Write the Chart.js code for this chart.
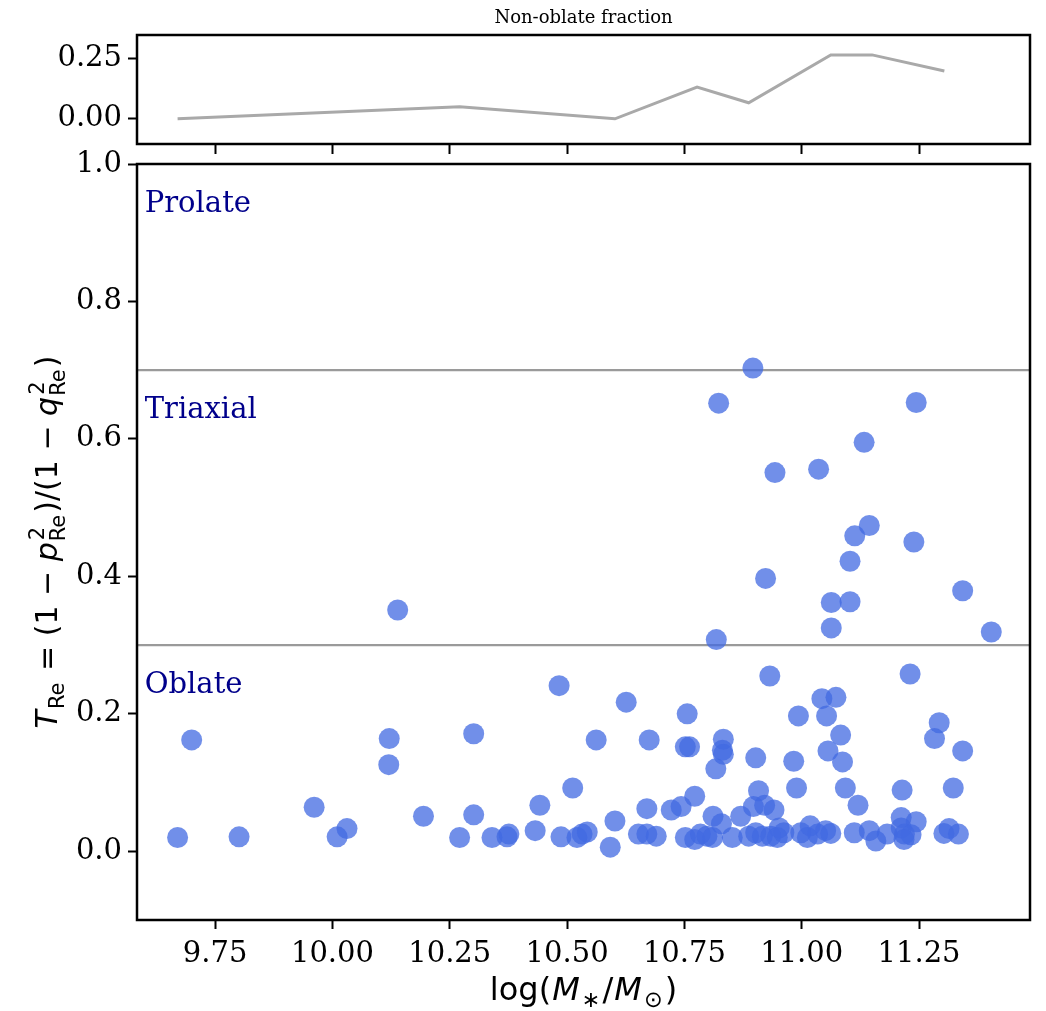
<!DOCTYPE html>
<html><head><meta charset="utf-8">
<script src="https://cdn.jsdelivr.net/npm/chart.js@4.4.1/dist/chart.umd.min.js"></script>
<style>
html,body{margin:0;padding:0;background:#fff;}
#wrap{position:relative;width:1046px;height:1011px;overflow:hidden;background:#fff;}
canvas{position:absolute;left:0;}
#top{top:0;}
#main{top:150px;}
</style></head><body>
<div id="wrap"><canvas id="top" width="1046" height="160"></canvas><canvas id="main" width="1046" height="861"></canvas></div>
<script>
// ---- data ----
const massX = [
 10.896,10.823,11.244,11.133,10.943,11.036,11.144,11.113,11.239,11.103,
 10.923,11.063,11.103,11.063,11.343,10.818,11.404,10.932,11.231,10.139,
 9.700,10.121,10.120,10.301,10.483,10.626,10.562,10.675,10.756,10.752,
 10.761,10.833,10.831,10.833,10.817,10.902,10.983,10.993,11.043,11.073,
 11.053,11.083,11.056,11.087,11.293,11.283,11.343,
 10.512,10.908,10.989,11.093,11.120,11.214,11.323,9.961,10.031,10.194,
 10.301,10.442,10.670,10.722,10.743,10.772,10.602,10.811,10.829,10.870,
 10.897,10.921,10.941,10.952,11.018,11.212,11.244,11.212,
 9.670,9.801,10.010,10.271,10.340,10.372,10.376,10.432,10.487,10.521,
 10.532,10.543,10.592,10.652,10.670,10.690,10.752,10.772,10.784,10.798,
 10.810,10.852,10.887,10.902,10.916,10.934,10.948,10.962,10.998,11.012,
 11.034,11.051,11.062,11.112,11.144,11.158,11.182,11.219,11.233,11.218,
 11.303,11.314,11.334
];
const triaxiality = [
 0.703,0.652,0.653,0.595,0.551,0.556,0.474,0.459,0.450,0.422,
 0.397,0.362,0.363,0.325,0.379,0.308,0.319,0.255,0.258,0.351,
 0.162,0.164,0.126,0.171,0.241,0.217,0.162,0.162,0.200,0.152,
 0.152,0.163,0.147,0.141,0.120,0.136,0.131,0.197,0.222,0.224,
 0.197,0.169,0.146,0.130,0.187,0.164,0.146,
 0.092,0.088,0.092,0.092,0.067,0.089,0.092,0.064,0.033,0.051,
 0.053,0.067,0.062,0.060,0.065,0.080,0.044,0.051,0.040,0.051,
 0.065,0.067,0.060,0.034,0.037,0.049,0.043,0.034,
 0.020,0.021,0.021,0.020,0.020,0.021,0.025,0.030,0.021,0.020,
 0.025,0.028,0.006,0.025,0.025,0.022,0.020,0.017,0.025,0.022,
 0.020,0.020,0.022,0.027,0.022,0.022,0.020,0.027,0.027,0.020,
 0.025,0.030,0.026,0.027,0.030,0.015,0.025,0.025,0.024,0.017,
 0.026,0.033,0.025
];
const fracMass = [9.670, 10.271, 10.602, 10.777, 10.887, 11.062, 11.150, 11.304];
const nonOblateFrac = [0.0, 0.05, 0.0, 0.133, 0.067, 0.267, 0.267, 0.2];
const xTicks = [9.75, 10.00, 10.25, 10.50, 10.75, 11.00, 11.25];
const yTicks = [0.0, 0.2, 0.4, 0.6, 0.8, 1.0];
const fracTicks = [0.00, 0.25];
const regionNames = ['Prolate', 'Triaxial', 'Oblate'];
const regionLabelY = [0.93, 0.63, 0.23];
const boundaries = [0.3, 0.7];

// ---- shared settings ----
const X_MIN = 9.5835, X_MAX = 11.4865;
const serif = "'DejaVu Serif', serif";
const tickFont = {family: "DejaVu Serif", size: 29};

function noPad(s){ s.paddingTop = 0; s.paddingBottom = 0; s.paddingLeft = 0; s.paddingRight = 0; }

function frame(ctx, a){
  ctx.save();
  ctx.strokeStyle = '#000';
  ctx.lineWidth = 2.5;
  ctx.strokeRect(a.left, a.top, a.right - a.left, a.bottom - a.top);
  ctx.restore();
}

// simple math-text runs drawing
function runsLayout(ctx, runs, size, draw, x0, y0){
  let x = x0 || 0;
  const sub = size * 0.7;
  for (const r of runs){
    const k = r.k || 'b';
    if (k === 'b'){
      ctx.font = (r.it ? 'italic ' : '') + size + "px 'DejaVu Sans'";
      if (draw) ctx.fillText(r.t, x, y0);
      x += ctx.measureText(r.t).width + (r.sp || 0);
    } else if (k === 'sub'){
      ctx.font = sub + "px 'DejaVu Sans'";
      if (draw) ctx.fillText(r.t, x + 1, y0 + size * 0.22);
      x += ctx.measureText(r.t).width + 3;
    } else if (k === 'ss'){
      ctx.font = sub + "px 'DejaVu Sans'";
      const w1 = ctx.measureText(r.sup).width, w2 = ctx.measureText(r.sub).width;
      if (draw){
        ctx.fillText(r.sup, x + 2, y0 - size * 0.45);
        ctx.fillText(r.sub, x + 1, y0 + size * 0.25);
      }
      x += Math.max(w1 + 2, w2 + 1) + 2;
    }
  }
  return x - (x0 || 0);
}
function drawRuns(ctx, runs, size, cx, baseline){
  ctx.save();
  ctx.textBaseline = 'alphabetic';
  ctx.textAlign = 'left';
  ctx.fillStyle = '#000';
  const w = runsLayout(ctx, runs, size, false, 0, 0);
  runsLayout(ctx, runs, size, true, cx - w / 2, baseline);
  ctx.restore();
}

const yLabelRuns = [
  {t:'T', it:1}, {t:'Re', k:'sub'}, {t:' = (1 \u2212 '}, {t:'p', it:1}, {k:'ss', sup:'2', sub:'Re'},
  {t:')/(1 \u2212 '}, {t:'q', it:1}, {k:'ss', sup:'2', sub:'Re'}, {t:')'}
];
const xLabelRuns = [
  {t:'log(', sp:1}, {t:'M', it:1, sp:1}, {t:'\u2217', k:'sub'}, {t:'/', sp:1}, {t:'M', it:1, sp:1}, {t:'\u2299', k:'sub'}, {t:')'}
];

// ---- top panel ----
new Chart(document.getElementById('top'), {
  type: 'line',
  data: { datasets: [{
    data: fracMass.map((m, i) => ({x: m, y: nonOblateFrac[i]})),
    borderColor: '#a9a9a9', borderWidth: 3, pointRadius: 0, tension: 0, fill: false
  }]},
  options: {
    responsive: false, animation: false, devicePixelRatio: 1,
    events: [],
    layout: {padding: {top: 35, right: 16, left: 0, bottom: 0}},
    plugins: {legend: {display: false}, tooltip: {enabled: false}},
    scales: {
      x: {
        type: 'linear', min: X_MIN, max: X_MAX,
        afterBuildTicks: s => { s.ticks = xTicks.map(v => ({value: v})); },
        afterFit: s => { s.height = 16; noPad(s); },
        ticks: {callback: () => '', autoSkip: false, maxRotation: 0},
        grid: {drawOnChartArea: false, drawTicks: true, tickLength: 10, tickWidth: 2, tickColor: '#000'},
        border: {display: false}
      },
      y: {
        min: -0.105, max: 0.35,
        afterBuildTicks: s => { s.ticks = fracTicks.map(v => ({value: v})); },
        afterFit: s => { s.width = 137; noPad(s); },
        ticks: {callback: v => Number(v).toFixed(2), font: tickFont, color: '#000', padding: 6},
        grid: {drawOnChartArea: false, drawTicks: true, tickLength: 9, tickWidth: 2, tickColor: '#000'},
        border: {display: false}
      }
    }
  },
  plugins: [{
    id: 'topDeco',
    afterDraw(chart){
      const ctx = chart.ctx, a = chart.chartArea;
      frame(ctx, a);
      ctx.save();
      ctx.font = "18px " + serif;
      ctx.fillStyle = '#000';
      ctx.textAlign = 'center';
      ctx.textBaseline = 'alphabetic';
      ctx.fillText('Non-oblate fraction', (a.left + a.right) / 2, a.top - 12);
      ctx.restore();
    }
  }]
});

// ---- main panel ----
new Chart(document.getElementById('main'), {
  type: 'scatter',
  data: { datasets: [{
    data: massX.map((m, i) => ({x: m, y: triaxiality[i]})),
    backgroundColor: 'rgba(65,105,225,0.75)', borderWidth: 0, pointRadius: 10.5
  }]},
  options: {
    responsive: false, animation: false, devicePixelRatio: 1,
    events: [],
    layout: {padding: {top: 14, right: 16, left: 0, bottom: 0}},
    plugins: {legend: {display: false}, tooltip: {enabled: false}},
    scales: {
      x: {
        type: 'linear', min: X_MIN, max: X_MAX,
        afterBuildTicks: s => { s.ticks = xTicks.map(v => ({value: v})); },
        afterFit: s => { s.height = 91; noPad(s); },
        ticks: {callback: v => Number(v).toFixed(2), font: tickFont, color: '#000', autoSkip: false, maxRotation: 0, padding: 8},
        grid: {drawOnChartArea: false, drawTicks: true, tickLength: 9, tickWidth: 2, tickColor: '#000'},
        border: {display: false}
      },
      y: {
        min: -0.1, max: 1.0,
        afterBuildTicks: s => { s.ticks = yTicks.map(v => ({value: v})); },
        afterFit: s => { s.width = 137; noPad(s); },
        ticks: {callback: v => Number(v).toFixed(1), font: tickFont, color: '#000', padding: 6},
        grid: {drawOnChartArea: false, drawTicks: true, tickLength: 9, tickWidth: 2, tickColor: '#000'},
        border: {display: false}
      }
    }
  },
  plugins: [{
    id: 'mainDeco',
    beforeDatasetsDraw(chart){
      const ctx = chart.ctx, a = chart.chartArea, ys = chart.scales.y;
      ctx.save();
      ctx.strokeStyle = '#9a9a9a';
      ctx.lineWidth = 2.2;
      for (const b of boundaries){
        const py = ys.getPixelForValue(b);
        ctx.beginPath(); ctx.moveTo(a.left, py); ctx.lineTo(a.right, py); ctx.stroke();
      }
      ctx.restore();
    },
    afterDraw(chart){
      const ctx = chart.ctx, a = chart.chartArea, xs = chart.scales.x, ys = chart.scales.y;
      frame(ctx, a);
      ctx.save();
      ctx.font = "29px " + serif;
      ctx.fillStyle = '#00008b';
      ctx.textAlign = 'left';
      ctx.textBaseline = 'alphabetic';
      regionNames.forEach((n, i) => {
        ctx.fillText(n, xs.getPixelForValue(9.6), ys.getPixelForValue(regionLabelY[i]));
      });
      ctx.restore();
      // x axis title
      drawRuns(ctx, xLabelRuns, 32, (a.left + a.right) / 2, a.bottom + 80);
      // y axis title (rotated)
      ctx.save();
      ctx.translate(a.left - 80, (a.top + a.bottom) / 2);
      ctx.rotate(-Math.PI / 2);
      drawRuns(ctx, yLabelRuns, 30, 0, 0);
      ctx.restore();
    }
  }]
});
</script>
</body></html>
